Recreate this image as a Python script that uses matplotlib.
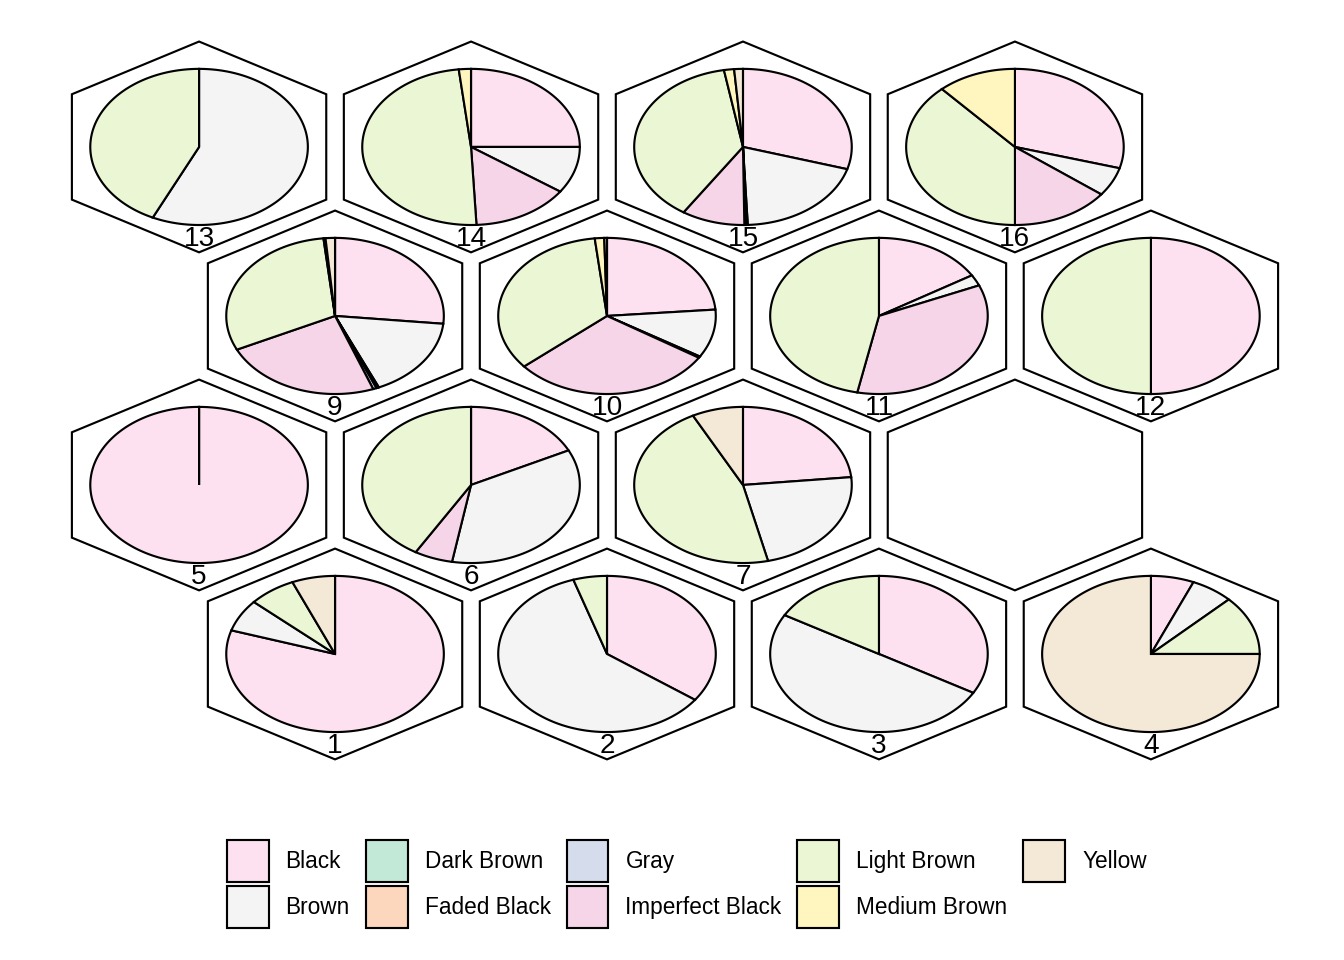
import numpy as np
import matplotlib
matplotlib.use("Agg")
import matplotlib.pyplot as plt
from matplotlib.patches import Polygon, Patch

plt.rcParams["font.family"] = ["Liberation Sans", "DejaVu Sans"]

# category order, clockwise from 12 o'clock
categories = ["Black", "Brown", "Dark Brown", "Faded Black", "Gray",
              "Imperfect Black", "Light Brown", "Medium Brown", "Yellow"]
colours = ["#FDE1F0", "#F4F4F4", "#C2E8D7", "#FDD7BD", "#D5DDED",
           "#F6D5E9", "#EBF7D4", "#FFF5BE", "#F4E8D6"]

# share of each category per SOM node (node 8 has no members)
node_ids = list(range(1, 17))
shares = {
    1:  [0.799, 0.067, 0, 0, 0, 0, 0.070, 0, 0.064],
    2:  [0.350, 0.600, 0, 0, 0, 0, 0.050, 0, 0],
    3:  [0.333, 0.500, 0, 0, 0, 0, 0.167, 0, 0],
    4:  [0.064, 0.063, 0, 0, 0, 0, 0.123, 0, 0.750],
    5:  [1.000, 0, 0, 0, 0, 0, 0, 0, 0],
    6:  [0.177, 0.351, 0, 0, 0, 0.057, 0.415, 0, 0],
    7:  [0.234, 0.229, 0, 0, 0, 0, 0.461, 0, 0.076],
    8:  None,
    9:  [0.266, 0.168, 0.002, 0.002, 0.005, 0.236, 0.304, 0.003, 0.014],
    10: [0.237, 0.100, 0, 0.003, 0, 0.298, 0.344, 0.014, 0.004],
    11: [0.163, 0.023, 0, 0, 0, 0.346, 0.468, 0, 0],
    12: [0.500, 0, 0, 0, 0, 0, 0.500, 0, 0],
    13: [0, 0.570, 0, 0, 0, 0, 0.430, 0, 0],
    14: [0.250, 0.097, 0, 0, 0, 0.145, 0.490, 0.018, 0],
    15: [0.296, 0.197, 0.002, 0, 0.003, 0.094, 0.380, 0.015, 0.013],
    16: [0.294, 0.060, 0, 0, 0, 0.146, 0.383, 0.117, 0],
}

GRID_COLS = 4
HEX_R = 0.54
PIE_R = 0.40
ROW_H = np.sqrt(3) / 2


def node_centre(node):
    row = (node - 1) // GRID_COLS + 1
    col = (node - 1) % GRID_COLS + 1
    x = col + (0.5 if row % 2 == 1 else 0.0)
    return x, row * ROW_H


def hexagon(cx, cy, r):
    ang = np.radians([30, 90, 150, 210, 270, 330])
    return np.column_stack([cx + r * np.cos(ang), cy + r * np.sin(ang)])


def slice_points(cx, cy, r, start, stop):
    # fractions measured clockwise from the top
    t = np.linspace(start, stop, max(int((stop - start) * 360), 2)) * 2 * np.pi
    arc = np.column_stack([cx + r * np.sin(t), cy + r * np.cos(t)])
    return np.vstack([[cx, cy], arc])


fig = plt.figure(figsize=(7, 5), dpi=192)
ax = fig.add_axes([0, 0, 1, 1])
ax.set_xlim(0.268, 5.210)
ax.set_ylim(-0.702, 4.217)
ax.axis("off")

for node in node_ids:
    cx, cy = node_centre(node)
    ax.add_patch(Polygon(hexagon(cx, cy, HEX_R), closed=True, fc="white",
                         ec="black", lw=0.8))
    vals = shares[node]
    if vals is None:
        continue
    cum = 0.0
    for v, c in zip(vals, colours):
        if v <= 0:
            continue
        ax.add_patch(Polygon(slice_points(cx, cy, PIE_R, cum, cum + v),
                             closed=True, fc=c, ec="black", lw=0.8))
        cum += v
    ax.text(cx, cy - 0.474, str(node), ha="center", va="center",
            fontsize=10.5, color="black")

handles = [Patch(fc=c, ec="black", lw=0.8) for c in colours]
fig.legend(handles, categories, ncol=5, loc="center",
           bbox_to_anchor=(0.511, 0.079), frameon=False, fontsize=8.5,
           handlelength=1.85, handleheight=2.47, handletextpad=0.75,
           columnspacing=0.7, labelspacing=0.18, borderpad=0)

fig.savefig("out.png", dpi=192, facecolor="white")
